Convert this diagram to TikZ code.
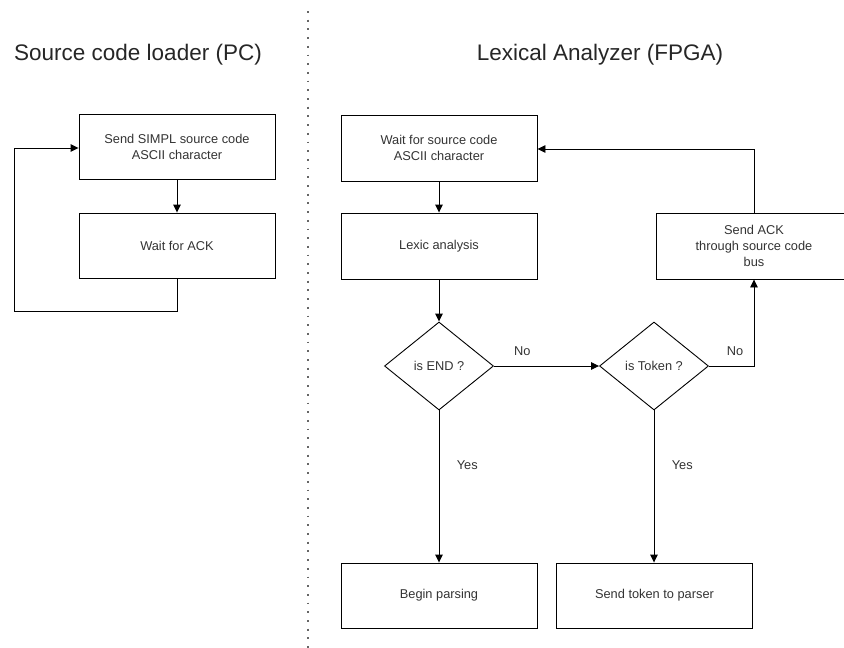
\documentclass[tikz,border=0pt]{standalone}
\usepackage{fontspec}
\setmainfont{Liberation Sans}
\usetikzlibrary{arrows.meta,shapes.geometric}

\tikzset{
  box/.style={draw, line width=0.9pt, minimum width=196pt, minimum height=65pt,
    align=center, inner sep=0pt, font=\fontsize{12.8}{16}\selectfont, text=black!80},
  decision/.style={draw, line width=0.9pt, diamond, minimum width=109pt, minimum height=88pt,
    aspect=1.24, inner sep=0pt, font=\fontsize{12.8}{15}\selectfont, text=black!80},
  flow/.style={draw, line width=0.9pt, -{Triangle[length=8pt,width=7.5pt]}},
  lbl/.style={font=\fontsize{12.8}{15}\selectfont, text=black!80},
  heading/.style={font=\fontsize{22.5}{26}\selectfont, text=black!85},
  divider/.style={draw=black!60, line width=2pt, dash pattern=on 1.8pt off 6.9pt}
}

\begin{document}
\begin{tikzpicture}[x=1pt, y=-1pt]
  \useasboundingbox (0,0) rectangle (844,648);
  \clip (0,0) rectangle (844,648);

  % divider between the two sides
  \draw[divider] (308,11) -- (308,648);

  % headings
  \node[heading] (hpc) at (138,55) {Source code loader (PC)};
  \node[heading] (hfpga) at (600,55) {Lexical Analyzer (FPGA)};

  % PC side
  \node[box] (send) at (177,147) {Send SIMPL source code\\ASCII character};
  \node[box] (waitack) at (177,245.5) {Wait for ACK};
  \coordinate (pcbl) at (177,311);
  \coordinate (pclb) at (14,311);
  \coordinate (pclt) at (14,148);

  \draw[flow] (send) -- (waitack);
  \draw[flow] (waitack.south) -- (pcbl) -- (pclb) -- (pclt) -- (send.west |- pclt);

  % FPGA side
  \node[box, minimum height=66pt] (waitsrc) at (439,148) {Wait for source code\\ASCII character};
  \node[box, minimum height=66pt] (lexic) at (439,246) {Lexic analysis};
  \node[decision] (isend) at (439,366) {is END ?};
  \node[decision] (istoken) at (654,366) {is Token ?};
  \node[box, minimum height=66pt] (sendack) at (754,246) {Send ACK\\through source code\\bus};
  \node[box] (begin) at (439,595.5) {Begin parsing};
  \node[box] (sendtok) at (654.5,595.5) {Send token to parser};

  \coordinate (tokr) at (754,366);
  \coordinate (acktop) at (754,149);

  \draw[flow] (waitsrc) -- (lexic);
  \draw[flow] (lexic) -- (isend);
  \draw[flow] (isend.east) -- node[lbl, above=7pt, pos=0.27] {No} (istoken.west);
  \draw[flow] (isend.south) -- node[lbl, right=14pt, pos=0.36] {Yes} (begin.north);
  \draw[flow] (istoken.south) -- node[lbl, right=14pt, pos=0.36] {Yes} (istoken.south |- begin.north);
  \draw[flow] (istoken.east) -- (tokr) -- (sendack.south);
  \node[lbl] (nolbl) at (735,351) {No};
  \draw[flow] (sendack.north) -- (acktop) -- (waitsrc.east |- acktop);
\end{tikzpicture}
\end{document}
